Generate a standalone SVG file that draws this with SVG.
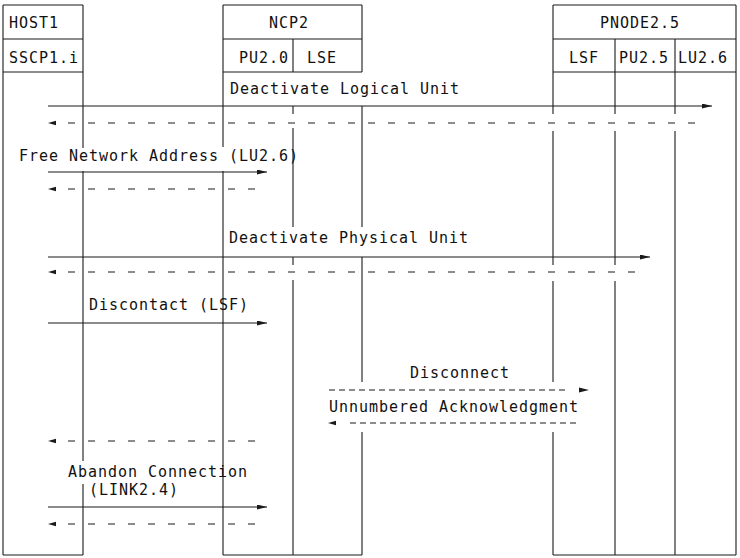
<svg xmlns="http://www.w3.org/2000/svg" xmlns:xlink="http://www.w3.org/1999/xlink" width="740" height="558" viewBox="0 0 740 558">
<style>
  .ln { stroke: #1a1a1a; stroke-width: 1.1; fill: none; }
  .t { font-family: "DejaVu Sans Mono", "Liberation Mono", monospace; font-size: 15px; letter-spacing: 0.97px; fill: #111; }
  .sol { stroke: #1a1a1a; stroke-width: 1.1; fill: none; marker-end: url(#ah); }
  .dsh { stroke: #1a1a1a; stroke-width: 1.1; fill: none; stroke-dasharray: 7 13; }
  .dsh2 { stroke: #1a1a1a; stroke-width: 1.1; fill: none; stroke-dasharray: 6 4; }
  .hd { fill: #1a1a1a; }
</style>
<defs>
  <marker id="ah" markerUnits="userSpaceOnUse" markerWidth="10" markerHeight="5" refX="10" refY="2.5" orient="auto">
    <path d="M0,0 L10,2.5 L0,5 z" fill="#1a1a1a"/>
  </marker>
  <path id="hR" d="M-10,-2.5 L0,0 L-10,2.5 z"/>
  <path id="hL" d="M8,-2.2 L0,0 L8,2.2 z"/>
</defs>
<rect width="740" height="558" fill="#fff"/>

<g id="host1">
  <path class="ln" d="M3,5 H83 M3,39 H83 M3,72 H83 M3,555 H83 M3,5 V555 M83,5 V148 M83,171 V461 M83,484 V555"/>
  <text class="t" x="9" y="28">HOST1</text>
  <text class="t" x="9" y="63">SSCP1.i</text>
</g>

<g id="ncp2">
  <path class="ln" d="M223,5 H362 M223,39 H362 M223,72 H362 M223,555 H362 M223,5 V147 M223,171 V555 M293,39 V72 M293,106 V114 M293,128 V227 M293,257 V265 M293,280 V555 M362,5 V72 M362,106 V227 M362,257 V382 M362,432 V555"/>
  <text class="t" x="269" y="28">NCP2</text>
  <text class="t" x="239" y="63">PU2.0</text>
  <text class="t" x="307" y="63">LSE</text>
</g>

<g id="pnode25">
  <path class="ln" d="M553,5 H736 M553,39 H736 M553,72 H736 M553,555 H736 M553,5 V114 M553,131 V265 M553,281 V382 M553,432 V555 M615,39 V114 M615,131 V265 M615,281 V555 M675,39 V114 M675,131 V555 M736,5 V555"/>
  <text class="t" x="600" y="28">PNODE2.5</text>
  <text class="t" x="569" y="63">LSF</text>
  <text class="t" x="619" y="63">PU2.5</text>
  <text class="t" x="678" y="63">LU2.6</text>
</g>

<g id="connectors">
  <text class="t" x="230" y="94">Deactivate Logical Unit</text>
  <line class="sol" x1="48" y1="106" x2="712" y2="106"/>
  <line class="dsh" x1="68" y1="123" x2="698" y2="123"/>
  <use href="#hL" xlink:href="#hL" class="hd" x="48" y="123"/>

  <text class="t" x="19" y="161">Free Network Address (LU2.6)</text>
  <line class="sol" x1="48" y1="172" x2="267" y2="172"/>
  <line class="dsh" x1="68" y1="189" x2="258" y2="189"/>
  <use href="#hL" xlink:href="#hL" class="hd" x="48" y="189"/>

  <text class="t" x="229" y="243">Deactivate Physical Unit</text>
  <line class="sol" x1="48" y1="257" x2="650" y2="257"/>
  <line class="dsh" x1="68" y1="272" x2="638" y2="272"/>
  <use href="#hL" xlink:href="#hL" class="hd" x="48" y="272"/>

  <text class="t" x="89" y="310">Discontact (LSF)</text>
  <line class="sol" x1="48" y1="323" x2="267" y2="323"/>

  <text class="t" x="410" y="378">Disconnect</text>
  <line class="dsh2" x1="329" y1="390" x2="567" y2="390"/>
  <use href="#hR" xlink:href="#hR" class="hd" x="589" y="390"/>

  <text class="t" x="329" y="412">Unnumbered Acknowledgment</text>
  <line class="dsh2" x1="350" y1="423" x2="577" y2="423"/>
  <use href="#hL" xlink:href="#hL" class="hd" x="328" y="423"/>

  <line class="dsh" x1="68" y1="441" x2="258" y2="441"/>
  <use href="#hL" xlink:href="#hL" class="hd" x="48" y="441"/>

  <text class="t" x="68" y="477">Abandon Connection</text>
  <text class="t" x="89" y="495">(LINK2.4)</text>
  <line class="sol" x1="48" y1="507" x2="267" y2="507"/>
  <line class="dsh" x1="68" y1="524" x2="258" y2="524"/>
  <use href="#hL" xlink:href="#hL" class="hd" x="48" y="524"/>
</g>
</svg>
